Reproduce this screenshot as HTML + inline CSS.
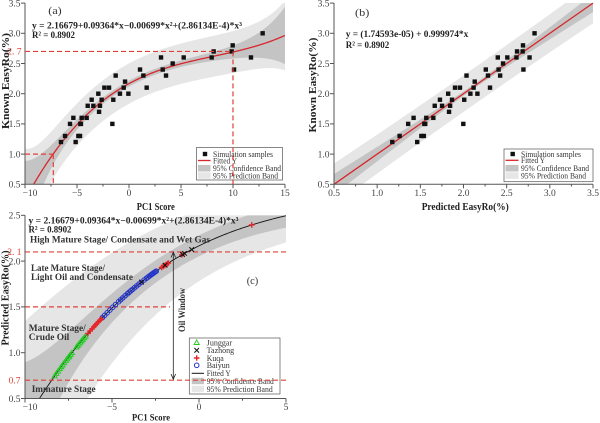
<!DOCTYPE html>
<html><head><meta charset="utf-8"><title>EasyRo charts</title>
<style>
html,body{margin:0;padding:0;background:#fff;width:600px;height:423px;overflow:hidden;}
svg{display:block;overflow:hidden;}
text{font-family:"Liberation Serif","DejaVu Serif",serif;}
.tk{font-size:9.5px;fill:#444;}
.b{font-weight:bold;fill:#222;}
.lg{font-size:8px;fill:#333;}
.rd{font-size:9.5px;fill:#e0403a;}
</style></head><body>
<svg id="s" width="600" height="423" viewBox="0 0 600 423" xmlns="http://www.w3.org/2000/svg">
<defs>
<clipPath id="ca"><rect x="25" y="3" width="260" height="181.3"/></clipPath>
<clipPath id="cb"><rect x="334" y="3" width="259" height="181.3"/></clipPath>
<clipPath id="cc"><rect x="25" y="215.3" width="261" height="183.2"/></clipPath>
</defs>

<g id="bandA" clip-path="url(#ca)"></g>
<g id="bandB" clip-path="url(#cb)"></g>
<g id="bandC" clip-path="url(#cc)"></g>
<g id="dashC"></g>
<g id="curves"></g>
<g id="pts"></g>
<g id="axes"></g>

<!-- Legends -->
<g id="legA">
<rect x="196.5" y="147.5" width="86" height="32.5" fill="#fff" stroke="#555" stroke-width="0.7"/>
<rect x="202.8" y="151.8" width="4.4" height="4.4" fill="#111"/>
<line x1="198" y1="160.5" x2="210.5" y2="160.5" stroke="#d7262b" stroke-width="1.3"/>
<rect x="198" y="165" width="12.5" height="6.5" fill="#c4c4c4"/>
<rect x="198" y="172.3" width="12.5" height="6.5" fill="#e6e6e6"/>
<text class="lg" x="213" y="156.8" textLength="60" lengthAdjust="spacingAndGlyphs">Simulation samples</text>
<text class="lg" x="213" y="163.3" textLength="24" lengthAdjust="spacingAndGlyphs">Fitted Y</text>
<text class="lg" x="213" y="171" textLength="68" lengthAdjust="spacingAndGlyphs">95% Confidence Band</text>
<text class="lg" x="213" y="178.3" textLength="65" lengthAdjust="spacingAndGlyphs">95% Prediction Band</text>
</g>
<g id="legB">
<rect x="504" y="149" width="89" height="32.7" fill="#fff" stroke="#555" stroke-width="0.7"/>
<rect x="510.5" y="151.8" width="4.4" height="4.4" fill="#111"/>
<line x1="505.5" y1="160.3" x2="518.5" y2="160.3" stroke="#d7262b" stroke-width="1.3"/>
<rect x="505.5" y="165" width="13" height="6.5" fill="#c4c4c4"/>
<rect x="505.5" y="172.3" width="13" height="6.5" fill="#e6e6e6"/>
<text class="lg" x="521" y="156.8" textLength="60" lengthAdjust="spacingAndGlyphs">Simulation samples</text>
<text class="lg" x="521" y="163.1" textLength="24" lengthAdjust="spacingAndGlyphs">Fitted Y</text>
<text class="lg" x="521" y="171" textLength="68" lengthAdjust="spacingAndGlyphs">95% Confidence Band</text>
<text class="lg" x="521" y="178.3" textLength="65" lengthAdjust="spacingAndGlyphs">95% Prediction Band</text>
</g>
<g id="legC">
<rect x="189.3" y="338" width="90.7" height="56" fill="#fff" stroke="#555" stroke-width="0.7"/>
<polygon points="196.7,339.9 194.1,344.5 199.3,344.5" fill="none" stroke="#22cc22" stroke-width="0.9"/>
<path d="M194.4 348 L199 352.6 M199 348 L194.4 352.6" stroke="#111" stroke-width="1"/>
<path d="M193.9 358 L199.5 358 M196.7 355.2 L196.7 360.8" stroke="#e8262a" stroke-width="1.4"/>
<circle cx="196.7" cy="365.3" r="2.3" fill="none" stroke="#2233cc" stroke-width="1"/>
<line x1="191.7" y1="373.3" x2="204" y2="373.3" stroke="#111" stroke-width="1"/>
<rect x="191.7" y="377.8" width="12.3" height="6.4" fill="#c4c4c4"/>
<rect x="191.7" y="385.8" width="12.3" height="6.4" fill="#e6e6e6"/>
<text class="lg" x="206.7" y="345.5" textLength="25.5" lengthAdjust="spacingAndGlyphs">Junggar</text>
<text class="lg" x="206.7" y="353.1" textLength="27.5" lengthAdjust="spacingAndGlyphs">Tazhong</text>
<text class="lg" x="206.7" y="360.8" textLength="17" lengthAdjust="spacingAndGlyphs">Kuqa</text>
<text class="lg" x="206.7" y="368.1" textLength="23" lengthAdjust="spacingAndGlyphs">Baiyun</text>
<text class="lg" x="206.7" y="376.1" textLength="24" lengthAdjust="spacingAndGlyphs">Fitted Y</text>
<text class="lg" x="206.7" y="383.8" textLength="67" lengthAdjust="spacingAndGlyphs">95% Confidence Band</text>
<text class="lg" x="206.7" y="391.8" textLength="66" lengthAdjust="spacingAndGlyphs">95% Prediction Band</text>
</g>

<g id="dashAB"></g>

<!-- Panel A texts -->
<text x="48.3" y="13.8" font-size="11" fill="#333" textLength="13.4" lengthAdjust="spacingAndGlyphs">(a)</text>
<text class="b" x="32" y="28.5" font-size="9.5" textLength="210" lengthAdjust="spacingAndGlyphs">y = 2.16679+0.09364*x−0.00699*x²+(2.86134E-4)*x³</text>
<text class="b" x="32" y="38" font-size="9.5" textLength="43" lengthAdjust="spacingAndGlyphs">R² = 0.8902</text>
<g class="tk" text-anchor="end">
<text x="20.5" y="6.4">3.5</text>
<text x="20.5" y="36.6">3.0</text>
<text x="20.5" y="66.8">2.5</text>
<text x="20.5" y="97">2.0</text>
<text x="20.5" y="127.2">1.5</text>
<text x="20.5" y="157.4">1.0</text>
<text x="20.5" y="187.6">0.5</text>
</g>
<text class="rd" x="21.5" y="54.7" text-anchor="end">2. 7</text>
<g class="tk" text-anchor="middle">
<text x="30" y="196.2">−10</text>
<text x="77" y="196.2">−5</text>
<text x="129" y="196.2">0</text>
<text x="181" y="196.2">5</text>
<text x="233" y="196.2">10</text>
<text x="285" y="196.2">15</text>
</g>
<text class="b" x="136.8" y="210" font-size="10" textLength="38" lengthAdjust="spacingAndGlyphs">PC1 Score</text>
<text class="b" font-size="10" text-anchor="middle" transform="translate(9,81) rotate(-90)" textLength="96" lengthAdjust="spacingAndGlyphs">Known EasyRo(%)</text>

<!-- Panel B texts -->
<text x="355" y="15.8" font-size="11" fill="#333" textLength="14.3" lengthAdjust="spacingAndGlyphs">(b)</text>
<text class="b" x="345.7" y="36.8" font-size="9.5" textLength="122.6" lengthAdjust="spacingAndGlyphs">y = (1.74593e-05) + 0.999974*x</text>
<text class="b" x="345.7" y="47.8" font-size="9.5" textLength="43.6" lengthAdjust="spacingAndGlyphs">R² = 0.8902</text>
<g class="tk" text-anchor="end">
<text x="329.5" y="6.4">3.5</text>
<text x="329.5" y="36.6">3.0</text>
<text x="329.5" y="66.8">2.5</text>
<text x="329.5" y="97">2.0</text>
<text x="329.5" y="127.2">1.5</text>
<text x="329.5" y="157.4">1.0</text>
<text x="329.5" y="187.6">0.5</text>
</g>
<g class="tk" text-anchor="middle">
<text x="334" y="196.2">0.5</text>
<text x="377.2" y="196.2">1.0</text>
<text x="420.3" y="196.2">1.5</text>
<text x="463.5" y="196.2">2.0</text>
<text x="506.7" y="196.2">2.5</text>
<text x="549.8" y="196.2">3.0</text>
<text x="593" y="196.2">3.5</text>
</g>
<text class="b" x="421.7" y="210" font-size="10" textLength="87" lengthAdjust="spacingAndGlyphs">Predicted EasyRo(%)</text>
<text class="b" font-size="10" text-anchor="middle" transform="translate(316,85) rotate(-90)" textLength="95" lengthAdjust="spacingAndGlyphs">Known EasyRo(%)</text>

<!-- Panel C texts -->
<text class="b" x="28.5" y="223.5" font-size="9.5" textLength="210" lengthAdjust="spacingAndGlyphs">y = 2.16679+0.09364*x−0.00699*x²+(2.86134E-4)*x³</text>
<text class="b" x="28.5" y="232.5" font-size="9.5" textLength="43" lengthAdjust="spacingAndGlyphs">R² = 0.8902</text>
<g class="b" font-size="9.5" style="fill:#333">
<text x="30" y="242.6" textLength="180" lengthAdjust="spacingAndGlyphs">High Mature Stage/ Condensate and Wet Gas</text>
<text x="31" y="270.8" textLength="74" lengthAdjust="spacingAndGlyphs">Late Mature Stage/</text>
<text x="31" y="280" textLength="102" lengthAdjust="spacingAndGlyphs">Light Oil and Condensate</text>
<text x="28.8" y="331" textLength="57" lengthAdjust="spacingAndGlyphs">Mature Stage/</text>
<text x="28.8" y="340" textLength="40.5" lengthAdjust="spacingAndGlyphs">Crude Oil</text>
<text x="31.7" y="392.2" textLength="64" lengthAdjust="spacingAndGlyphs">Immature Stage</text>
</g>
<text x="246.7" y="284" font-size="11" fill="#333" textLength="11.6" lengthAdjust="spacingAndGlyphs">(c)</text>
<text class="b" font-size="9.5" text-anchor="middle" transform="translate(185,310) rotate(-90)" style="fill:#333" textLength="44" lengthAdjust="spacingAndGlyphs">Oil Window</text>
<g stroke="#222" stroke-width="0.8" fill="none">
<line x1="173.3" y1="252.5" x2="173.3" y2="379"/>
<polyline points="171,257.5 173.3,252.3 175.6,257.5"/>
<polyline points="171,374 173.3,379.2 175.6,374"/>
</g>
<g class="tk" text-anchor="end">
<text x="20.5" y="218.6">2.5</text>
<text x="20.5" y="264.4">2.0</text>
<text x="20.5" y="310.2">1.5</text>
<text x="20.5" y="356">1.0</text>
<text x="20.5" y="401.8">0.5</text>
</g>
<text class="rd" x="21.5" y="255.2" text-anchor="end">2. 1</text>
<text class="rd" x="20.5" y="383.5" text-anchor="end">0.7</text>
<g class="tk" text-anchor="middle">
<text x="30" y="409.8">−10</text>
<text x="112" y="409.8">−5</text>
<text x="199" y="409.8">0</text>
<text x="286" y="409.8">5</text>
</g>
<text class="b" x="132" y="420.3" font-size="9.5" textLength="38" lengthAdjust="spacingAndGlyphs">PC1 Score</text>
<text class="b" font-size="10" text-anchor="middle" transform="translate(8.5,298) rotate(-90)" textLength="95" lengthAdjust="spacingAndGlyphs">Predicted EasyRo(%)</text>
</svg>

<script>
(function(){
const NS="http://www.w3.org/2000/svg";
function el(p,tag,a){const e=document.createElementNS(NS,tag);for(const k in a)e.setAttribute(k,a[k]);document.getElementById(p).appendChild(e);return e;}
const f=x=>2.16679+0.09364*x-0.00699*x*x+2.86134e-4*x*x*x;
function cl(v,a,b){return Math.max(a,Math.min(b,v));}
function bandPath(X,Y,c,w,x0,x1,yT,yB){let n=240,u=[],l=[];for(let i=0;i<=n;i++){const x=x0+(x1-x0)*i/n,yc=c(x),ww=w(x);const px=X(x).toFixed(2);u.push(px+' '+cl(Y(yc+ww),yT,yB).toFixed(2));l.push(px+' '+cl(Y(yc-ww),yT,yB).toFixed(2));}return 'M'+u.join('L')+'L'+l.reverse().join('L')+'Z';}
function linePath(X,Y,c,x0,x1){let n=240,u=[];for(let i=0;i<=n;i++){const x=x0+(x1-x0)*i/n;u.push(X(x).toFixed(2)+' '+Y(c(x)).toFixed(2));}return 'M'+u.join('L');}
const DARK='#c4c4c4',LIGHT='#e6e6e6',RED='#d7262b',DRED='#e0403a',AXC='#555';

// Panel A
const AX=v=>25+(v+10)*10.4, AY=v=>184.3-(v-0.5)*60.4;
const ciA=x=>0.045+0.6*Math.exp(-(x+10)/1.8)+0.43*Math.exp((x-15)/2.6);
const piA=x=>Math.sqrt(0.1089+ciA(x)*ciA(x))+0.12*Math.exp(-(x+10)/2);
el('bandA','path',{d:bandPath(AX,AY,f,piA,-10,15,3,184.3),fill:LIGHT});
el('bandA','path',{d:bandPath(AX,AY,f,ciA,-10,15,3,184.3),fill:DARK});
const A=[[-6.54,1.2],[-6.15,1.3],[-5.67,1.5],[-5.35,1.6],[-5.13,1.2],[-4.87,1.3],[-4.71,1.3],[-4.68,1.5],[-4.62,1.5],[-4.55,1.6],[-4.07,1.6],[-3.97,1.8],[-3.59,1.9],[-3.43,1.8],[-2.95,2.0],[-2.88,1.7],[-2.79,1.8],[-2.63,1.9],[-2.37,2.1],[-1.92,2.1],[-1.60,1.5],[-1.51,1.9],[-1.28,2.3],[-0.87,2.0],[-0.51,2.1],[-0.38,2.2],[-0.06,2.0],[1.06,2.4],[1.38,2.3],[1.70,2.1],[3.08,2.6],[3.24,2.4],[3.56,2.3],[4.20,2.5],[5.26,2.6],[7.95,2.6],[8.14,2.7],[9.87,2.7],[9.97,2.8],[10.10,2.4],[11.73,2.6],[12.85,3.0]];
A.forEach(([x,y])=>el('pts','rect',{x:(AX(x)-2.2).toFixed(2),y:(AY(y)-2.2).toFixed(2),width:4.4,height:4.4,fill:'#111'}));
el('curves','path',{d:linePath(AX,AY,f,-9.17,15),fill:'none',stroke:RED,'stroke-width':1.3,'clip-path':'url(#ca)'});

// Panel B
const BX=v=>334+(v-0.5)*86.33, BY=AY;
const id=x=>x;
const ciB=x=>Math.sqrt(0.035*0.035+0.0108*(x-2.1)*(x-2.1));
const piB=x=>Math.sqrt(0.09+ciB(x)*ciB(x));
el('bandB','path',{d:bandPath(BX,BY,id,piB,0.5,3.5,3,184.3),fill:LIGHT});
el('bandB','path',{d:bandPath(BX,BY,id,ciB,0.5,3.5,3,184.3),fill:DARK});
A.forEach(([x,y])=>{const p=f(x);el('pts','rect',{x:(BX(p)-2.2).toFixed(2),y:(BY(y)-2.2).toFixed(2),width:4.4,height:4.4,fill:'#111'});});
el('curves','line',{x1:BX(0.5),y1:BY(0.5),x2:BX(3.5),y2:BY(3.5),stroke:RED,'stroke-width':1.3});

// Panel C
const CX=v=>199+v*17.4, CY=v=>215.3+(2.5-v)*91.6;
const ciC=x=>0.1+0.55*Math.exp(-(x+10)/2.2)+0.03*Math.exp((x-5)/4);
const piC=x=>0.22+0.88*Math.exp(-(x+10)/6);
el('bandC','path',{d:bandPath(CX,CY,f,piC,-10,5,215.3,398.5),fill:LIGHT});
el('bandC','path',{d:bandPath(CX,CY,f,ciC,-10,5,215.3,398.5),fill:DARK});
const dsh={stroke:DRED,'stroke-width':1.2,'stroke-dasharray':'5,3',fill:'none'};
el('dashC','line',Object.assign({x1:25,y1:CY(2.1),x2:286,y2:CY(2.1)},dsh));
el('dashC','line',Object.assign({x1:25,y1:CY(1.5),x2:170,y2:CY(1.5)},dsh));
el('curves','path',{d:linePath(CX,CY,f,-9.17,5),fill:'none',stroke:'#111','stroke-width':0.9,'clip-path':'url(#cc)'});
const jung=[-8.3,-8.2,-8.1,-8.0,-7.92,-7.85,-7.75,-7.65,-7.58,-7.5,-7.45,-7.38,-7.3,-7.05,-6.98,-6.9,-6.82,-6.75,-6.68,-6.6,-6.52];
jung.forEach(x=>{const cx=CX(x),cy=CY(f(x));el('pts','polygon',{points:`${cx.toFixed(2)},${(cy-2.8).toFixed(2)} ${(cx-2.6).toFixed(2)},${(cy+1.8).toFixed(2)} ${(cx+2.6).toFixed(2)},${(cy+1.8).toFixed(2)}`,fill:'none',stroke:'#22cc22','stroke-width':0.9});});
const bai=[-5.55,-5.42,-5.28,-5.12,-4.95,-4.8,-4.62,-4.5,-4.38,-4.25,-4.12,-4.02,-3.92,-3.82,-3.7,-3.58,-3.45,-3.32,-3.15,-3.02,-2.92,-2.84,-2.77,-2.7,-2.64,-2.58,-2.52,-2.46];
bai.forEach(x=>el('pts','circle',{cx:CX(x).toFixed(2),cy:CY(f(x)).toFixed(2),r:2.3,fill:'none',stroke:'#2233cc','stroke-width':1}));
const kuq=[-6.38,-6.25,-6.15,-6.05,-5.97,-5.88,-5.8,-5.7,-5.62,-2.15,-2.06,-1.98,-1.9,-1.82,-1.76,-0.98,3.03];
kuq.forEach(x=>{const cx=CX(x),cy=CY(f(x));el('pts','path',{d:`M${(cx-2.8).toFixed(2)} ${cy.toFixed(2)}L${(cx+2.8).toFixed(2)} ${cy.toFixed(2)}M${cx.toFixed(2)} ${(cy-2.8).toFixed(2)}L${cx.toFixed(2)} ${(cy+2.8).toFixed(2)}`,stroke:'#e8262a','stroke-width':1.4});});
const taz=[-3.3,-1.95,-0.95,-0.83,-0.42];
taz.forEach(x=>{const cx=CX(x),cy=CY(f(x));el('pts','path',{d:`M${(cx-2.3).toFixed(2)} ${(cy-2.3).toFixed(2)}L${(cx+2.3).toFixed(2)} ${(cy+2.3).toFixed(2)}M${(cx+2.3).toFixed(2)} ${(cy-2.3).toFixed(2)}L${(cx-2.3).toFixed(2)} ${(cy+2.3).toFixed(2)}`,stroke:'#111','stroke-width':1});});

function ax(a){el('axes','line',Object.assign({stroke:AXC,'stroke-width':1},a));}
ax({x1:25,y1:3,x2:25,y2:184.3});ax({x1:25,y1:184.3,x2:285,y2:184.3});
for(let v=0.5;v<=3.51;v+=0.5)ax({x1:21,y1:AY(v),x2:25,y2:AY(v)});
for(let v=-10;v<=15;v+=5)ax({x1:AX(v),y1:184.3,x2:AX(v),y2:188.3});
for(let v=-7.5;v<15;v+=5)ax({x1:AX(v),y1:184.3,x2:AX(v),y2:186.5});
ax({x1:334,y1:3,x2:334,y2:184.3});ax({x1:334,y1:184.3,x2:593,y2:184.3});
for(let v=0.5;v<=3.51;v+=0.5)ax({x1:330,y1:BY(v),x2:334,y2:BY(v)});
for(let v=0.5;v<=3.51;v+=0.5)ax({x1:BX(v),y1:184.3,x2:BX(v),y2:188.3});
for(let v=0.75;v<3.5;v+=0.5)ax({x1:BX(v),y1:184.3,x2:BX(v),y2:186.5});
ax({x1:25,y1:215.3,x2:25,y2:398.5});ax({x1:25,y1:398.5,x2:286,y2:398.5});
for(let v=0.5;v<=2.51;v+=0.5)ax({x1:21,y1:CY(v),x2:25,y2:CY(v)});
for(let v=-10;v<=5;v+=5)ax({x1:CX(v),y1:398.5,x2:CX(v),y2:402.5});
for(let v=-7.5;v<5;v+=5)ax({x1:CX(v),y1:398.5,x2:CX(v),y2:400.7});

const d2=Object.assign({},dsh);
el('dashAB','line',Object.assign({x1:25,y1:AY(2.7),x2:AX(10),y2:AY(2.7)},d2));
el('dashAB','line',Object.assign({x1:AX(10),y1:AY(2.7),x2:AX(10),y2:184.3},d2));
el('dashAB','line',Object.assign({x1:25,y1:AY(1.0),x2:AX(-7.28),y2:AY(1.0)},d2));
el('dashAB','line',Object.assign({x1:AX(-7.28),y1:AY(1.0),x2:AX(-7.28),y2:184.3},d2));
el('dashAB','line',Object.assign({x1:25,y1:CY(0.7),x2:286,y2:CY(0.7)},d2));
})();
</script>
</body></html>
